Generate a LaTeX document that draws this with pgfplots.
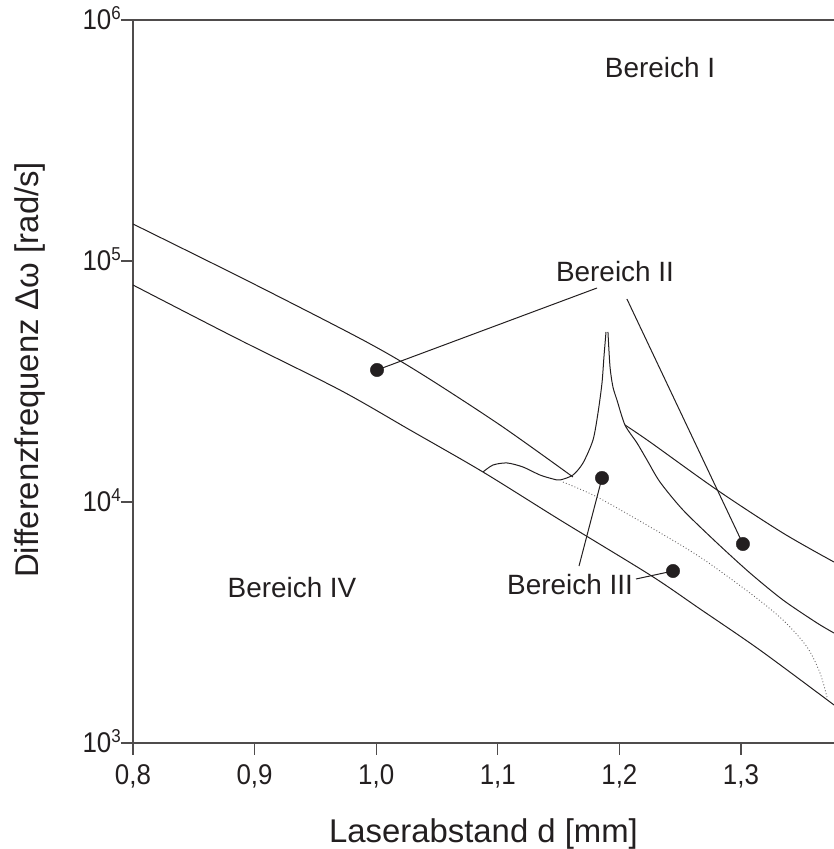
\documentclass[border=0pt]{standalone}
\usepackage{fontspec}
\setmainfont{Liberation Sans}
\usepackage{pgfplots}
\pgfplotsset{compat=1.18}
\definecolor{ink}{HTML}{231F20}
\newcommand{\tl}[1]{10\smash{\raisebox{9bp}{\fontsize{17}{17}\selectfont #1}}}
\begin{document}
\begin{tikzpicture}
\begin{axis}[
  scale only axis, width=701bp, height=723bp,
  at={(0,0)}, anchor=south west,
  xmin=0.8, xmax=1.3765, ymin=1e3, ymax=1e6, ymode=log,
  axis x line=box, axis y line=left,
  y axis line style={-},
  xtick pos=bottom,
  tick align=outside, major tick length=12bp,
  xtick={0.8,0.9,1.0,1.1,1.2,1.3},
  xticklabels={{0,8},{0,9},{1,0},{1,1},{1,2},{1,3}},
  ytick={1e3,1e4,1e5,1e6},
  yticklabels={\tl{3},\tl{4},\tl{5},\tl{6}},
  yminorticks=false, xminorticks=false,
  tick style={ink!80, line width=1.2bp},
  axis line style={ink!80, line width=1.2bp},
  ticklabel style={font=\fontsize{26}{28}\selectfont, text=ink},
  yticklabel style={inner xsep=0pt, yscale=1.1},
  xticklabel style={yshift=-6bp, yscale=1.1},
  xlabel={Laserabstand d [mm]},
  ylabel={Differenzfrequenz Δω [rad/s]},
  label style={font=\fontsize{33}{36}\selectfont, text=ink},
  xlabel style={at={(axis description cs:0.5,0)}, anchor=base, yshift=-100bp},
  ylabel style={at={(axis description cs:0,0.516)}, anchor=center, yshift=103bp},
]
% lower line
\addplot[ink, line width=1bp, smooth, tension=0.5] coordinates {
 (0.8,79500) (0.8847,47900) (0.9702,29150) (1.0278,19900) (1.0878,13320)
 (1.1512,8420) (1.2252,4980) (1.2663,3600) (1.3156,2430) (1.3765,1438)};
% upper line
\addplot[ink, line width=1bp, smooth, tension=0.5] coordinates {
 (0.8,142400) (0.8962,81800) (0.9891,47000) (1.036,34300) (1.1018,20870) (1.1618,12700)};
% dotted continuation
\addplot[ink!70, line width=0.9bp, dash pattern=on 0.9bp off 2.2bp, smooth, tension=0.5] coordinates {
 (1.1536,12100) (1.1816,10490) (1.2252,7880) (1.2663,5910) (1.3074,4190)
 (1.3345,3240) (1.3543,2502) (1.365,1952) (1.3707,1552)};
% bump and left cusp branch
\addplot[ink, line width=1bp, smooth, tension=0.45] coordinates {
 (1.0878,13320) (1.0961,14240) (1.1076,14520) (1.1207,13970) (1.1347,12940)
 (1.1454,12460) (1.1512,12340) (1.1618,12940) (1.1701,14520) (1.1783,18080)
 (1.1824,23410) (1.1857,31170) (1.1873,39970) (1.189,50750)};
% right cusp branch
\addplot[ink, line width=1bp, smooth, tension=0.45] coordinates {
 (1.1906,50750) (1.1923,36330) (1.1947,30010) (1.198,26500) (1.2046,20870)
 (1.2145,17570) (1.2227,14940) (1.2334,12100) (1.2523,9265) (1.2803,6760)
 (1.3074,5075) (1.3345,3922) (1.3625,3148) (1.3765,2860)};
% right upper line
\addplot[ink, line width=1bp, smooth, tension=0.5] coordinates {
 (1.2046,20870) (1.2252,17740) (1.2803,11220) (1.3345,7435) (1.3765,5636)};
% leader lines
\addplot[ink, line width=1bp] coordinates {(1.1816,77270) (1.0007,35300)};
\addplot[ink, line width=1bp] coordinates {(1.2062,69550) (1.3016,6695)};
\addplot[ink, line width=1bp] coordinates {(1.1668,5425) (1.1857,12580)};
\addplot[ink, line width=1bp] coordinates {(1.2137,4792) (1.2441,5172)};
% dots
\addplot[only marks, mark=*, mark size=6.7bp, ink] coordinates {
 (1.0007,35300) (1.1857,12580) (1.3016,6695) (1.2441,5172)};
% labels
\node[font=\fontsize{28}{30}\selectfont, text=ink] at (axis cs:1.2334,638000) {Bereich I};
\node[font=\fontsize{28}{30}\selectfont, text=ink] at (axis cs:1.1964,90000) {Bereich II};
\node[font=\fontsize{28}{30}\selectfont, text=ink] at (axis cs:1.1594,4525) {Bereich III};
\node[font=\fontsize{28}{30}\selectfont, text=ink] at (axis cs:0.9308,4397) {Bereich IV};
\end{axis}
\pgfresetboundingbox
\useasboundingbox (-133bp,-106bp) rectangle (701bp,743bp);
\end{tikzpicture}
\end{document}
